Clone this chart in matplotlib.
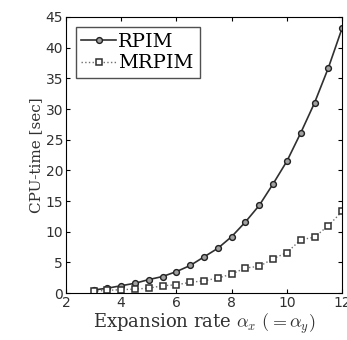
import matplotlib
matplotlib.use('Agg')
import matplotlib.pyplot as plt
import numpy as np

# expansion rate (x) and CPU time
alpha = [3, 3.5, 4, 4.5, 5, 5.5, 6, 6.5, 7, 7.5, 8, 8.5, 9, 9.5, 10, 10.5, 11, 11.5, 12]
rpim = [0.5, 0.8, 1.2, 1.6, 2.2, 2.7, 3.5, 4.5, 5.9, 7.3, 9.2, 11.6, 14.3, 17.8,
        21.5, 26.1, 31.0, 36.7, 43.2]
mrpim = [0.3, 0.45, 0.55, 0.65, 0.8, 1.2, 1.35, 1.75, 2.0, 2.45, 3.1, 4.1, 4.35,
         5.6, 6.6, 8.7, 9.1, 11.0, 13.3]

xticks = [2, 4, 6, 8, 10, 12]
yticks = [0, 5, 10, 15, 20, 25, 30, 35, 40, 45]

plt.rcParams['mathtext.fontset'] = 'cm'

fig = plt.figure(figsize=(3.47, 3.40), dpi=100)
ax = fig.add_axes([0.19, 0.138, 0.796, 0.812])

ax.plot(alpha, rpim, '-', color='#303030', lw=1.2, marker='o', ms=4.2,
        mfc='#a0a0a0', mec='#202020', mew=1.0, label='RPIM')
ax.plot(alpha, mrpim, ':', color='#707070', lw=1.0, marker='s', ms=4.8,
        mfc='white', mec='#303030', mew=1.1, label='MRPIM')

ax.set_xlim(2, 12)
ax.set_ylim(0, 45)
ax.set_xticks(xticks)
ax.set_yticks(yticks)
ax.tick_params(direction='in', top=True, right=True, length=3, labelsize=10,
               pad=2, labelcolor='#303030')

ax.set_xlabel(r'Expansion rate $\alpha_x$ $(=\alpha_y)$', family='serif',
              fontsize=13, labelpad=1, color='#303030')
ax.set_ylabel('CPU-time [sec]', family='serif', fontsize=11, labelpad=2,
              color='#303030')

leg = ax.legend(loc='upper left', prop={'family': 'serif', 'size': 14},
                fancybox=False, edgecolor='#505050', framealpha=1,
                handlelength=1.8, handletextpad=0.1, borderpad=0.3,
                labelspacing=0.2, borderaxespad=0.5)
leg.get_frame().set_linewidth(1.0)

fig.savefig('out.png', dpi=100)
